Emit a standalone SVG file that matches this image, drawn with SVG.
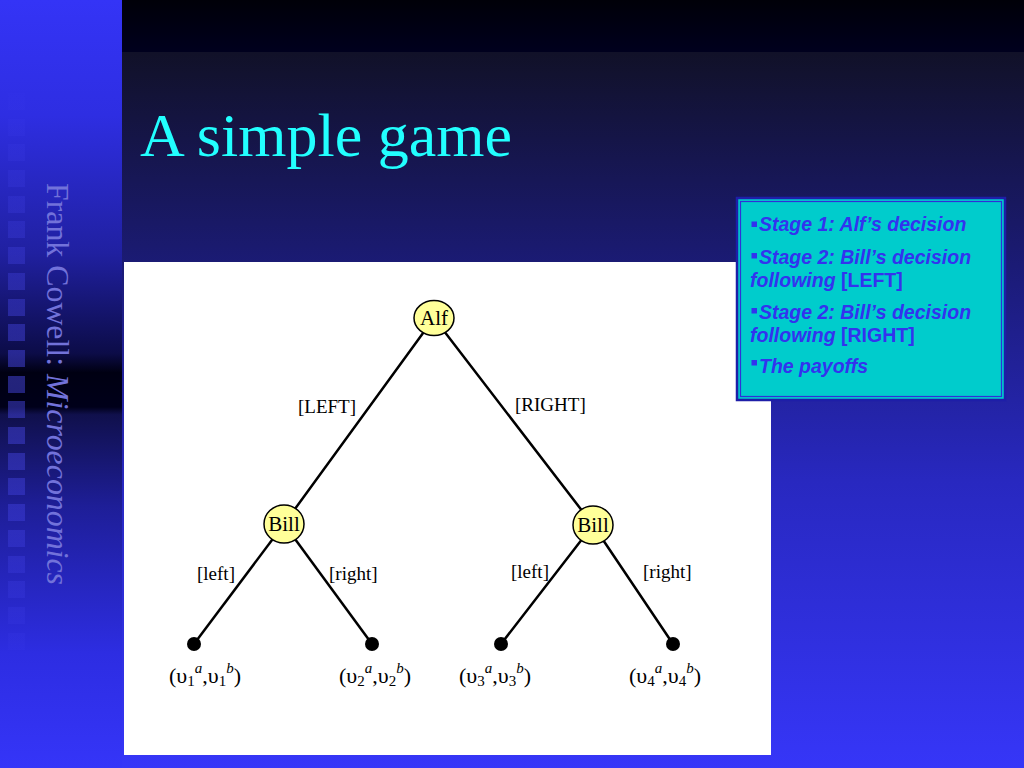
<svg xmlns="http://www.w3.org/2000/svg" width="1024" height="768" viewBox="0 0 1024 768">
<defs>
<linearGradient id="gMain" x1="0" y1="52" x2="0" y2="768" gradientUnits="userSpaceOnUse">
<stop offset="0" stop-color="#111128"/>
<stop offset="0.3" stop-color="#1b1b76"/>
<stop offset="0.6" stop-color="#2828c0"/>
<stop offset="1" stop-color="#3636f8"/>
</linearGradient>
<linearGradient id="gTop" x1="0" y1="0" x2="0" y2="52" gradientUnits="userSpaceOnUse">
<stop offset="0" stop-color="#000008"/>
<stop offset="1" stop-color="#00001e"/>
</linearGradient>
<linearGradient id="gLeft" x1="0" y1="0" x2="0" y2="768" gradientUnits="userSpaceOnUse">
<stop offset="0" stop-color="#3434f6"/>
<stop offset="0.15" stop-color="#2e2ee2"/>
<stop offset="0.33" stop-color="#2020a0"/>
<stop offset="0.46" stop-color="#0c0c48"/>
<stop offset="0.485" stop-color="#000012"/>
<stop offset="0.53" stop-color="#00001a"/>
<stop offset="0.54" stop-color="#10104c"/>
<stop offset="0.66" stop-color="#1e1e98"/>
<stop offset="0.85" stop-color="#2d2de2"/>
<stop offset="1" stop-color="#3535f8"/>
</linearGradient>
<linearGradient id="gSq" x1="0" y1="90" x2="0" y2="660" gradientUnits="userSpaceOnUse">
<stop offset="0" stop-color="#5050ff" stop-opacity="0.02"/>
<stop offset="0.25" stop-color="#5050ff" stop-opacity="0.2"/>
<stop offset="0.5" stop-color="#5050ff" stop-opacity="0.45"/>
<stop offset="0.75" stop-color="#5050ff" stop-opacity="0.3"/>
<stop offset="1" stop-color="#5050ff" stop-opacity="0.03"/>
</linearGradient>
<style>
.edge{stroke:#000;stroke-width:2.5;fill:none;stroke-linecap:round}
.dm{fill:#ffff99;stroke:#000;stroke-width:1.5}
.leaf{fill:#000}
.nt{font-family:"Liberation Serif","Times New Roman",serif;font-size:21px;fill:#000;text-anchor:middle}
.lb{font-family:"Liberation Serif","Times New Roman",serif;font-size:19px;fill:#000}
.pay{font-family:"Liberation Serif","Times New Roman",serif;font-size:22px;fill:#000;text-anchor:middle}
.ss{font-size:15px}
.bx{font-family:"Liberation Sans",Arial,sans-serif;font-size:19.5px;font-weight:bold;font-style:italic;fill:#3333ee}
.up{font-style:normal}
.bul{fill:#3333ee}
</style>
</defs>

<!-- background -->
<rect x="0" y="0" width="1024" height="768" fill="url(#gMain)"/>
<rect x="122" y="0" width="902" height="52" fill="url(#gTop)"/>
<rect x="0" y="0" width="122" height="768" fill="url(#gLeft)"/>
<g fill="url(#gSq)">
<rect x="8" y="93" width="17" height="17"/>
<rect x="8" y="119" width="17" height="17"/>
<rect x="8" y="144" width="17" height="17"/>
<rect x="8" y="170" width="17" height="17"/>
<rect x="8" y="196" width="17" height="17"/>
<rect x="8" y="221" width="17" height="17"/>
<rect x="8" y="247" width="17" height="17"/>
<rect x="8" y="273" width="17" height="17"/>
<rect x="8" y="299" width="17" height="17"/>
<rect x="8" y="324" width="17" height="17"/>
<rect x="8" y="350" width="17" height="17"/>
<rect x="8" y="376" width="17" height="17"/>
<rect x="8" y="401" width="17" height="17"/>
<rect x="8" y="427" width="17" height="17"/>
<rect x="8" y="453" width="17" height="17"/>
<rect x="8" y="478" width="17" height="17"/>
<rect x="8" y="504" width="17" height="17"/>
<rect x="8" y="530" width="17" height="17"/>
<rect x="8" y="556" width="17" height="17"/>
<rect x="8" y="581" width="17" height="17"/>
<rect x="8" y="607" width="17" height="17"/>
<rect x="8" y="633" width="17" height="17"/>
</g>

<!-- vertical author text -->
<text transform="translate(47,183) rotate(90)" font-family="'Liberation Serif','Times New Roman',serif" font-size="31" fill="#7272da" textLength="402" lengthAdjust="spacingAndGlyphs">Frank Cowell: <tspan font-style="italic">Microeconomics</tspan></text>

<!-- title -->
<text x="140" y="156" font-family="'Liberation Serif','Times New Roman',serif" font-size="62" fill="#22ffff">A simple game</text>

<!-- white panel -->
<rect x="124" y="262" width="647" height="493" fill="#ffffff"/>

<!-- connectors -->
<g id="connectors">
<line class="edge" x1="434" y1="318" x2="284" y2="524"/>
<line class="edge" x1="434" y1="318" x2="593" y2="525"/>
<line class="edge" x1="284" y1="524" x2="194" y2="644"/>
<line class="edge" x1="284" y1="524" x2="372" y2="644"/>
<line class="edge" x1="593" y1="525" x2="501" y2="644"/>
<line class="edge" x1="593" y1="525" x2="673" y2="644"/>
<text class="lb" x="298" y="413">[LEFT]</text>
<text class="lb" x="515" y="411">[RIGHT]</text>
<text class="lb" x="197" y="580">[left]</text>
<text class="lb" x="329" y="580">[right]</text>
<text class="lb" x="511" y="578">[left]</text>
<text class="lb" x="643" y="578">[right]</text>
</g>

<!-- nodes -->
<g id="alf">
<ellipse class="dm" cx="434" cy="318" rx="20" ry="17.5"/>
<text class="nt" x="434" y="325">Alf</text>
</g>
<g id="bill-left">
<ellipse class="dm" cx="284" cy="524" rx="20" ry="19"/>
<text class="nt" x="284" y="531">Bill</text>
</g>
<g id="bill-right">
<ellipse class="dm" cx="593" cy="525" rx="20" ry="19"/>
<text class="nt" x="593" y="532">Bill</text>
</g>
<g id="leaf1">
<circle class="leaf" cx="194" cy="644" r="7"/>
<text class="pay" x="205" y="683">(υ<tspan class="ss" dy="3">1</tspan><tspan class="ss" font-style="italic" dy="-13">a</tspan><tspan dy="10">,υ</tspan><tspan class="ss" dy="3">1</tspan><tspan class="ss" font-style="italic" dy="-13">b</tspan><tspan dy="10">)</tspan></text>
</g>
<g id="leaf2">
<circle class="leaf" cx="372" cy="644" r="7"/>
<text class="pay" x="375" y="683">(υ<tspan class="ss" dy="3">2</tspan><tspan class="ss" font-style="italic" dy="-13">a</tspan><tspan dy="10">,υ</tspan><tspan class="ss" dy="3">2</tspan><tspan class="ss" font-style="italic" dy="-13">b</tspan><tspan dy="10">)</tspan></text>
</g>
<g id="leaf3">
<circle class="leaf" cx="501" cy="644" r="7"/>
<text class="pay" x="495" y="683">(υ<tspan class="ss" dy="3">3</tspan><tspan class="ss" font-style="italic" dy="-13">a</tspan><tspan dy="10">,υ</tspan><tspan class="ss" dy="3">3</tspan><tspan class="ss" font-style="italic" dy="-13">b</tspan><tspan dy="10">)</tspan></text>
</g>
<g id="leaf4">
<circle class="leaf" cx="673" cy="644" r="7"/>
<text class="pay" x="665" y="683">(υ<tspan class="ss" dy="3">4</tspan><tspan class="ss" font-style="italic" dy="-13">a</tspan><tspan dy="10">,υ</tspan><tspan class="ss" dy="3">4</tspan><tspan class="ss" font-style="italic" dy="-13">b</tspan><tspan dy="10">)</tspan></text>
</g>

<!-- info box -->
<g id="stages-box">
<rect x="737" y="198" width="268" height="202" fill="#00cccc" stroke="#1e1ea8" stroke-width="2.5"/>
<rect x="740.5" y="201.5" width="261" height="195" fill="none" stroke="#3030d8" stroke-width="1.2"/>
<rect class="bul" x="751.5" y="221.5" width="5.5" height="5.5"/>
<rect class="bul" x="751.5" y="253" width="5.5" height="5.5"/>
<rect class="bul" x="751.5" y="308" width="5.5" height="5.5"/>
<rect class="bul" x="751.5" y="360" width="5.5" height="5.5"/>
<text class="bx" x="759" y="231">Stage 1: Alf’s decision</text>
<text class="bx" x="759" y="264">Stage 2: Bill’s decision</text>
<text class="bx" x="750" y="287">following <tspan class="up">[LEFT]</tspan></text>
<text class="bx" x="759" y="319">Stage 2: Bill’s decision</text>
<text class="bx" x="750" y="342">following <tspan class="up">[RIGHT]</tspan></text>
<text class="bx" x="759" y="373">The payoffs</text>
</g>
</svg>
